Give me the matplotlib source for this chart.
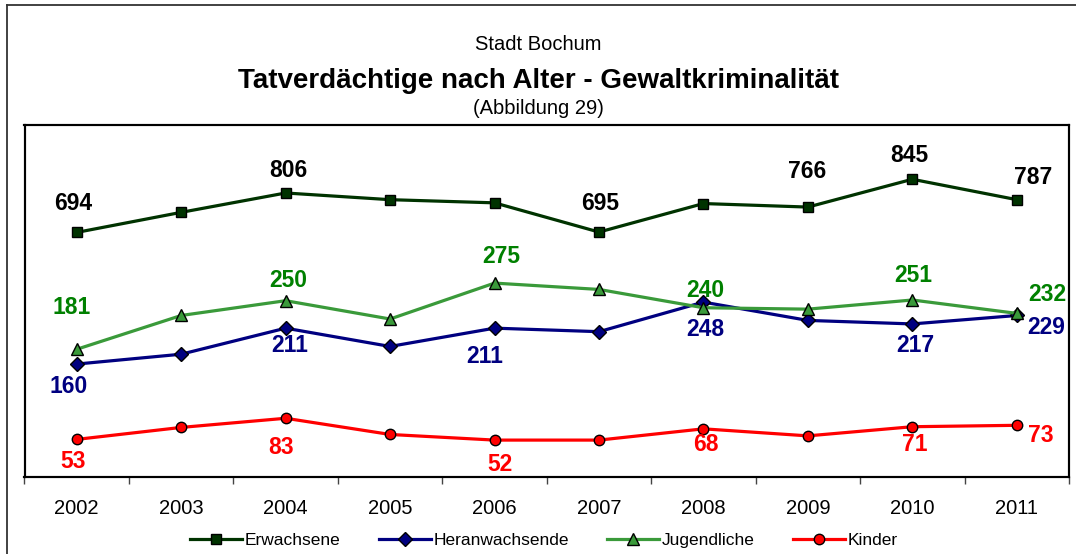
import numpy as np
import matplotlib
matplotlib.use("Agg")
from matplotlib import pyplot as plt
from matplotlib.lines import Line2D

plt.rcParams['font.family'] = ['Liberation Sans', 'DejaVu Sans']

years = ['2002', '2003', '2004', '2005', '2006', '2007', '2008', '2009', '2010', '2011']
erwachsene = [694, 751, 806, 787, 778, 695, 776, 766, 845, 787]
heranwachsende = [160, 174, 211, 185, 211, 206, 248, 222, 217, 229]
jugendliche = [181, 229, 250, 224, 275, 266, 240, 238, 251, 232]
kinder = [53, 70, 83, 60, 52, 52, 68, 58, 71, 73]

# which points get a value label
lab_erw = [0, 2, 5, 7, 8, 9]
lab_other = [0, 2, 4, 6, 8, 9]

# label offsets in pixels (dx, dy) from the marker
off_erw = [(-4, 29), (3, 22), (1, 29), (-1, 36), (-3, 24), (16, 22)]
off_jug = [(-5, 42), (3, 20), (7, 27), (2, 17), (1, 24), (31, 19)]
off_her = [(-8, -22), (4, -17), (-10, -28), (2, -27), (3, -22), (29, -12)]
off_kin = [(-4, -22), (-5, -29), (5, -24), (2, -16), (2, -18), (24, -10)]

c_erw = '#003300'
c_her = '#000080'
c_jug = '#3A9A3A'
c_kin = '#FF0000'

fig = plt.figure(figsize=(10.76, 5.54), dpi=100)
ax = fig.add_axes([24.5 / 1076, 1 - 476.7 / 554, (1069 - 24.5) / 1076, (476.7 - 124.7) / 554])
ax2 = ax.twinx()

x = np.arange(len(years))
lw = 2.3
ms = 7.5

l_her, = ax.plot(x, heranwachsende, color=c_her, lw=lw, marker='D', ms=ms - 0.5,
                 mfc=c_her, mec='black', mew=1, zorder=3)
l_jug, = ax.plot(x, jugendliche, color=c_jug, lw=lw, marker='^', ms=ms + 1,
                 mfc=c_jug, mec='black', mew=1, zorder=4)
l_kin, = ax.plot(x, kinder, color=c_kin, lw=lw, marker='o', ms=ms,
                 mfc=c_kin, mec='black', mew=1, zorder=3)
l_erw, = ax2.plot(x, erwachsene, color=c_erw, lw=lw, marker='s', ms=ms,
                  mfc=c_erw, mec='black', mew=1, zorder=3)

ax.set_ylim(0, 500)
ax2.set_ylim(0, 1000)
ax.set_xlim(-0.5, 9.5)

fs = 16.5
for i, (dx, dy) in zip(lab_erw, off_erw):
    ax2.annotate(str(erwachsene[i]), (x[i], erwachsene[i]), xytext=(dx, dy),
                 textcoords='offset pixels', ha='center', va='center',
                 fontsize=fs, fontweight='bold', color='black')
for vals, offs, col in [(jugendliche, off_jug, '#008000'),
                        (heranwachsende, off_her, '#000080'),
                        (kinder, off_kin, '#FF0000')]:
    for i, (dx, dy) in zip(lab_other, offs):
        ax.annotate(str(vals[i]), (x[i], vals[i]), xytext=(dx, dy),
                    textcoords='offset pixels', ha='center', va='center',
                    fontsize=fs, fontweight='bold', color=col, zorder=6)

ax.set_xticks(x)
ax.set_xticklabels(years, fontsize=14.5)
ax.set_xticks(np.arange(-0.5, 10, 1), minor=True)
ax.tick_params(axis='x', which='major', length=0, pad=16)
ax.tick_params(axis='x', which='minor', length=5, width=1, direction='out', color='#444444')
ax.set_yticks([])
ax2.set_yticks([])
for a in (ax, ax2):
    for s in a.spines.values():
        s.set_linewidth(1.5)
        s.set_color('black')

fig.text(0.5, 1 - 44 / 554, 'Stadt Bochum', ha='center', va='center', fontsize=14.5)
fig.text(0.5, 1 - 81 / 554, 'Tatverdächtige nach Alter - Gewaltkriminalität', ha='center',
         va='center', fontsize=20, fontweight='bold')
fig.text(0.5, 1 - 108 / 554, '(Abbildung 29)', ha='center', va='center', fontsize=14.5)

fig.legend([l_erw, l_her, l_jug, l_kin], ['Erwachsene', 'Heranwachsende', 'Jugendliche', 'Kinder'],
           loc='center', bbox_to_anchor=(544 / 1076, 1 - 540 / 554), ncol=4, frameon=False,
           fontsize=12.5, handlelength=3.0, handletextpad=0.15, columnspacing=2.2)

# outer frame (only top and left edges fall inside the picture)
fig.add_artist(Line2D([7 / 1076, 7 / 1076], [0, 1 - 5 / 554], color='#333333', lw=1.3))
fig.add_artist(Line2D([7 / 1076, 1], [1 - 5 / 554, 1 - 5 / 554], color='#333333', lw=1.3))

fig.savefig('out.png', dpi=100)
